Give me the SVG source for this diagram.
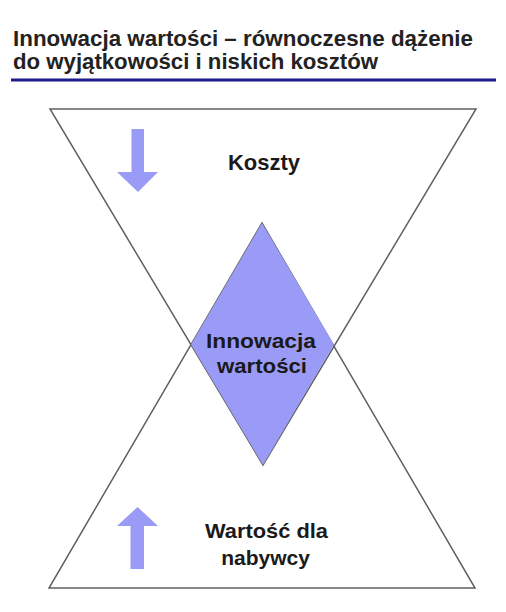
<svg xmlns="http://www.w3.org/2000/svg" width="506" height="612" viewBox="0 0 506 612">
<style>
.title{font-family:"Liberation Sans",Arial,sans-serif;font-weight:bold;font-size:21.5px;fill:#222;}
.lbl{font-family:"Liberation Sans",Arial,sans-serif;font-weight:bold;font-size:21px;fill:#1a1a1a;text-anchor:middle;}
.tri{fill:none;stroke:#606060;stroke-width:1.5;stroke-linejoin:miter;}
.fillp{fill:#9a9af7;}
</style>
<rect width="506" height="612" fill="#ffffff"/>
<g id="title">
<text class="title" x="13" y="46" textLength="460" lengthAdjust="spacingAndGlyphs">Innowacja wartości – równoczesne dążenie</text>
<text class="title" x="13" y="68.5" textLength="365" lengthAdjust="spacingAndGlyphs">do wyjątkowości i niskich kosztów</text>
<line x1="11" y1="80" x2="496" y2="80" stroke="#1c1c8e" stroke-width="3"/>
</g>
<g id="connectors">
<polygon class="tri" points="50,109 476,109 263,465"/>
<polygon class="tri" points="49,588 475,588 262,223"/>
</g>
<g id="innowacja">
<polygon class="fillp" points="262,223 334,344.5 263,465 191,344.5"/>
<text class="lbl" x="261" y="348" textLength="110" lengthAdjust="spacingAndGlyphs">Innowacja</text>
<text class="lbl" x="262" y="373" textLength="90" lengthAdjust="spacingAndGlyphs">wartości</text>
</g>
<g id="koszty">
<polygon class="fillp" points="131.5,129 144,129 144,172 158,172 138,192 117,172 131.5,172"/>
<text class="lbl" x="264" y="170" style="font-size:22px">Koszty</text>
</g>
<g id="wartosc">
<polygon class="fillp" points="130.5,569 144,569 144,526 158,526 137.5,507 117,526 130.5,526"/>
<text class="lbl" x="266.5" y="538" textLength="123" lengthAdjust="spacingAndGlyphs">Wartość dla</text>
<text class="lbl" x="265.5" y="565">nabywcy</text>
</g>
</svg>
